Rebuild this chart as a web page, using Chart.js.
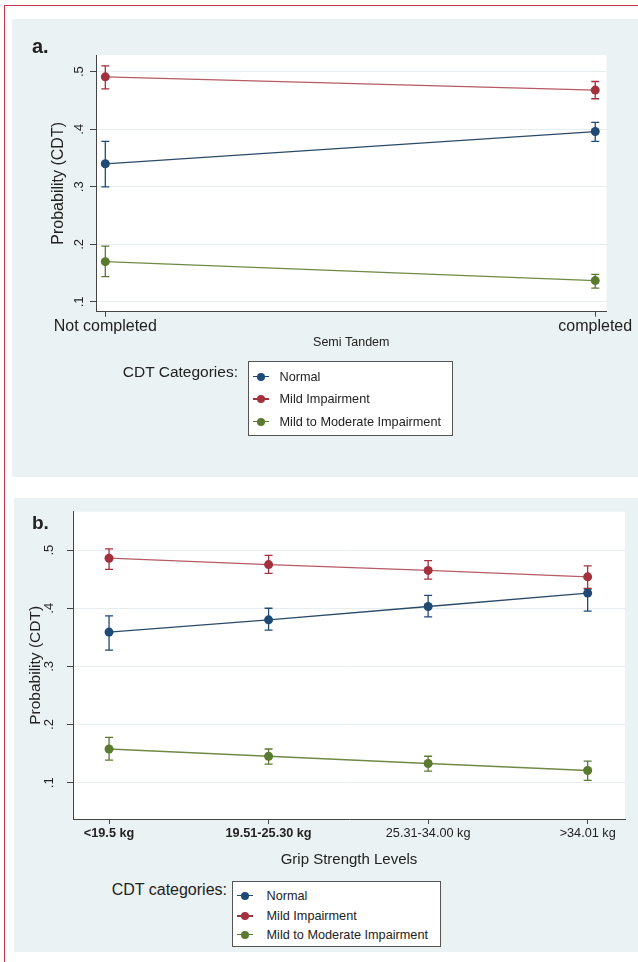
<!DOCTYPE html>
<html><head><meta charset="utf-8">
<script src="https://cdn.jsdelivr.net/npm/chart.js@4.4.1/dist/chart.umd.min.js"></script>
<style>
body{margin:0;background:#fff;width:638px;height:962px;position:relative;overflow:hidden;font-family:"Liberation Sans",Arial,sans-serif;color:#222}
.frame{position:absolute;left:4px;top:5px;width:634px;height:957px;border-top:1.5px solid #c8344a;border-left:1.5px solid #c8344a;box-sizing:border-box}
.panel{position:absolute;background:#eaf2f3}
#pa{left:12px;top:19px;width:626px;height:458px}
#pb{left:14px;top:498px;width:624px;height:454px}
canvas{position:absolute;left:0;top:0}
.lbl{position:absolute;font-weight:bold;line-height:1;white-space:nowrap}
.legtitle{position:absolute;left:0;text-align:right;white-space:nowrap;line-height:1;transform:translateY(-50%)}
.legbox{position:absolute;background:#fff;border:1px solid #555;box-sizing:border-box}
.item{position:absolute;white-space:nowrap;font-size:12.7px;line-height:1;transform:translateY(-50%)}
.ln{position:absolute;width:16px;height:1.6px}
.dot{position:absolute;width:8px;height:8px;border-radius:50%}
</style></head>
<body>
<div class="frame"></div>
<div class="panel" id="pa"><canvas id="ca" width="626" height="340"></canvas></div>
<div class="panel" id="pb"><canvas id="cb" width="624" height="380"></canvas></div>
<div class="lbl" style="left:32px;top:35.8px;font-size:20px">a.</div>
<div class="lbl" style="left:32px;top:513.2px;font-size:19px">b.</div>
<div class="legtitle" style="width:238px;top:372px;font-size:15.5px">CDT Categories:</div>
<div class="legbox" id="lega" style="left:247.5px;top:361px;width:205.5px;height:75px"></div>
<div class="legtitle" style="width:227px;top:890px;font-size:16px">CDT categories:</div>
<div class="legbox" id="legb" style="left:232px;top:881px;width:209px;height:66px"></div>
<script>
// ---- data ----
const seriesNames = ['Normal', 'Mild Impairment', 'Mild to Moderate Impairment'];
const yTickValues = [0.1, 0.2, 0.3, 0.4, 0.5];
const yTickLabels = ['.1', '.2', '.3', '.4', '.5'];

const xLabelsA = ['Not completed', 'completed'];
const normalA   = [0.340, 0.396];
const normalALo = [0.300, 0.379];
const normalAHi = [0.379, 0.412];
const mildA     = [0.491, 0.468];
const mildALo   = [0.470, 0.453];
const mildAHi   = [0.510, 0.483];
const modA      = [0.170, 0.137];
const modALo    = [0.144, 0.124];
const modAHi    = [0.197, 0.148];

const xLabelsB = ['<19.5 kg', '19.51-25.30 kg', '25.31-34.00 kg', '>34.01 kg'];
const normalB   = [0.359, 0.380, 0.403, 0.426];
const normalBLo = [0.328, 0.3625, 0.385, 0.395];
const normalBHi = [0.387, 0.400, 0.422, 0.433];
const mildB     = [0.486, 0.475, 0.465, 0.454];
const mildBLo   = [0.467, 0.460, 0.450, 0.434];
const mildBHi   = [0.502, 0.491, 0.482, 0.473];
const modB      = [0.158, 0.1455, 0.133, 0.121];
const modBLo    = [0.139, 0.132, 0.120, 0.104];
const modBHi    = [0.178, 0.158, 0.1455, 0.137];

// ---- styles ----
const FONT = '"Liberation Sans", Arial, sans-serif';
const markColors = ['#1f4a75', '#a3303d', '#5a7a30'];
const lineColors = ['#2b4a68', '#b65a64', '#6f8a44'];

const errorBars = {
  id: 'errorBars',
  beforeDatasetsDraw(chart) {
    const {ctx, scales: {x, y}} = chart;
    ctx.save();
    chart.data.datasets.forEach((ds, k) => {
      ctx.strokeStyle = markColors[k];
      ctx.lineWidth = 1.3;
      ds.lo.forEach((lo, i) => {
        const px = x.getPixelForValue(ds.data[i].x);
        const p1 = y.getPixelForValue(lo), p2 = y.getPixelForValue(ds.hi[i]);
        ctx.beginPath();
        ctx.moveTo(px, p1); ctx.lineTo(px, p2);
        ctx.moveTo(px - 4, p1); ctx.lineTo(px + 4, p1);
        ctx.moveTo(px - 4, p2); ctx.lineTo(px + 4, p2);
        ctx.stroke();
      });
    });
    ctx.restore();
  }
};
const rotYTicks = {
  id: 'rotYTicks',
  afterDraw(chart, args, o) {
    const y = chart.scales.y, ctx = chart.ctx;
    ctx.save();
    ctx.fillStyle = '#222';
    ctx.font = o.size + 'px ' + FONT;
    ctx.textAlign = 'center'; ctx.textBaseline = 'middle';
    yTickValues.forEach((v, i) => {
      ctx.save();
      ctx.translate(o.x, y.getPixelForValue(v));
      ctx.rotate(-Math.PI / 2);
      ctx.fillText(yTickLabels[i], 0, 0);
      ctx.restore();
    });
    ctx.restore();
  }
};
const plotBg = {
  id: 'plotBg',
  beforeDraw(chart) {
    const {ctx, chartArea: a} = chart;
    ctx.save(); ctx.fillStyle = '#fff';
    ctx.fillRect(a.left, a.top, a.right - a.left, a.bottom - a.top);
    ctx.restore();
  }
};

function makeChart(id, xLabels, sets, g) {
  return new Chart(document.getElementById(id), {
    type: 'line',
    data: {datasets: sets.map((s, k) => ({
      label: seriesNames[k],
      data: s.v.map((v, i) => ({x: i + 1, y: v})),
      lo: s.lo, hi: s.hi,
      borderColor: lineColors[k], backgroundColor: markColors[k],
      pointBackgroundColor: markColors[k], pointBorderColor: markColors[k],
      borderWidth: 1.3, pointRadius: 4.5, pointBorderWidth: 0, tension: 0
    }))},
    options: {
      responsive: false, animation: false, events: [],
      layout: {padding: {left: 0, top: g.top, right: g.right, bottom: g.bottom}},
      plugins: {legend: {display: false}, tooltip: {enabled: false}, rotYTicks: {x: g.yLabelX, size: g.yLabelSize}},
      scales: {
        x: {
          type: 'linear', min: g.xmin, max: g.xmax,
          afterBuildTicks: s => { s.ticks = xLabels.map((_, i) => ({value: i + 1})); },
          afterFit: s => { s.height = g.xh; },
          ticks: {autoSkip: false, maxRotation: 0, minRotation: 0, padding: g.xtp, color: '#222',
                  font: g.xfont, callback: (v, i) => xLabels[i]},
          grid: {drawOnChartArea: false, drawTicks: true, tickLength: 5, tickColor: '#444', tickWidth: 1},
          border: {display: true, color: '#444', width: 1},
          title: {display: true, text: g.xtitle, color: '#222', font: {family: FONT, size: g.xts},
                  padding: {top: 0, bottom: g.xtpb}}
        },
        y: {
          type: 'linear', min: g.ymin, max: g.ymax,
          afterBuildTicks: s => { s.ticks = yTickValues.map(v => ({value: v})); },
          afterFit: s => { s.width = g.yw; },
          ticks: {display: false},
          grid: {color: '#e6eef0', lineWidth: 1, drawTicks: true, tickLength: 6, tickColor: '#444'},
          border: {display: true, color: '#444', width: 1},
          title: {display: true, text: 'Probability (CDT)', color: '#222', font: {family: FONT, size: g.yts},
                  padding: {top: g.ytpt, bottom: 0}}
        }
      }
    },
    plugins: [plotBg, errorBars, rotYTicks]
  });
}

makeChart('ca', xLabelsA, [
  {v: normalA, lo: normalALo, hi: normalAHi},
  {v: mildA, lo: mildALo, hi: mildAHi},
  {v: modA, lo: modALo, hi: modAHi}
], {top: 36, right: 31.5, bottom: 7.3, xh: 40, xtp: 0, xfont: {family: FONT, size: 16},
    xtitle: 'Semi Tandem', xts: 12.5, xtpb: 1.5, yw: 84, yts: 16, ytpt: 37.4,
    yLabelX: 67, yLabelSize: 13, ymin: 0.083, ymax: 0.529, xmin: 0.981, xmax: 2.023});

makeChart('cb', xLabelsB, [
  {v: normalB, lo: normalBLo, hi: normalBHi},
  {v: mildB, lo: mildBLo, hi: mildBHi},
  {v: modB, lo: modBLo, hi: modBHi}
], {top: 13.7, right: 13, bottom: 9, xh: 50, xtp: 1.4,
    xfont: c => ({family: FONT, size: 12.7, weight: c.index < 2 ? 'bold' : 'normal'}),
    xtitle: 'Grip Strength Levels', xts: 15, xtpb: 0, yw: 59, yts: 15.5, ytpt: 12.5,
    yLabelX: 35, yLabelSize: 13, ymin: 0.0376, ymax: 0.566, xmin: 0.774, xmax: 4.234});

// ---- HTML legends ----
function legend(id, rows, mx, tx) {
  const box = document.getElementById(id);
  seriesNames.forEach((n, k) => {
    const cy = rows[k];
    const ln = document.createElement('div'); ln.className = 'ln';
    ln.style.cssText = `left:${mx - 8}px;top:${cy - 0.8}px;background:${markColors[k]}`;
    const d = document.createElement('div'); d.className = 'dot';
    d.style.cssText = `left:${mx - 4}px;top:${cy - 4}px;background:${markColors[k]}`;
    const t = document.createElement('div'); t.className = 'item';
    t.style.cssText = `left:${tx}px;top:${cy}px`; t.textContent = n;
    box.append(ln, d, t);
  });
}
legend('lega', [14.5, 37, 59.5], 12.5, 31);
legend('legb', [13.5, 34, 52.5], 11.5, 33.5);
</script>
</body></html>
